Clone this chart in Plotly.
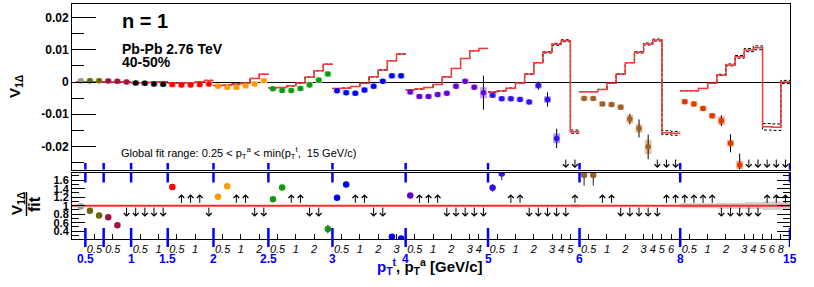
import plotly.graph_objects as go

# ---------------- data ----------------
# trigger-pT boundaries (blue), placed at the start of blocks 1..11 and at the end of block 11
trig_edge_labels = ["0.5", "", "1", "1.5", "2", "2.5", "3", "4", "5", "6", "8", "15"]
# associated-pT boundary labels, by inner edge index j inside each trigger block
assoc_edge_labels = ["", "0.5", "", "1", "", "2", "", "3", "4", "5", "6", "8"]

region_color = ["#9a9a9a", "#6b6600", "#9c1445", "#000000", "#ff0000", "#ff9900",
                "#109a10", "#0000ff", "#6a00cc", "#3311ee", "#9a6030", "#dd3a00"]
region_light = ["#d4d4d4", "#c9c58a", "#e0a0b8", "#9a9a9a", "#ffa0a0", "#ffd08a",
                "#9ee09e", "#a0a0ff", "#c8a0ff", "#a898ff", "#e8c098", "#ffa880"]

# V_1Delta data per trigger block (None = below range -> arrow)
v1_data = [
    [0.0004],
    [0.0004, 0.0004],
    [0.0003, 0.0002, 0.0000],
    [-0.0003, -0.0004, -0.0006, -0.0007],
    [-0.0008, -0.0009, -0.0009, -0.0008, -0.0006],
    [-0.0013, -0.0016, -0.0016, -0.0012, -0.0006, 0.0004],
    [-0.0021, -0.0026, -0.0026, -0.0020, -0.0009, 0.0006, 0.0025],
    [-0.0027, -0.0033, -0.0035, -0.0025, -0.0013, 0.0002, 0.0019, 0.0019],
    [-0.0031, -0.0045, -0.0045, -0.0039, -0.0035, -0.0013, 0.0002, -0.0016, -0.0033],
    [-0.0041, -0.0052, -0.0052, -0.0054, -0.0062, -0.0011, -0.0054, -0.0175, None, None],
    [-0.0051, -0.0051, -0.0068, -0.0070, -0.0078, -0.0115, -0.0144, -0.0201, None, None, None],
    [-0.0061, -0.0068, -0.0082, -0.0105, -0.0120, -0.0190, -0.0257, None, None, None, None, None],
]
v1_stat = [
    [0.0001],
    [0.0001, 0.0001],
    [0.0001, 0.0001, 0.0001],
    [0.0001, 0.0001, 0.0001, 0.0001],
    [0.0001, 0.0001, 0.0001, 0.0001, 0.0001],
    [0.0001, 0.0001, 0.0001, 0.0001, 0.0001, 0.0002],
    [0.0001, 0.0001, 0.0001, 0.0001, 0.0002, 0.0002, 0.0002],
    [0.0001, 0.0001, 0.0001, 0.0002, 0.0002, 0.0002, 0.0004, 0.0004],
    [0.0001, 0.0001, 0.0001, 0.0002, 0.0002, 0.0004, 0.0005, 0.0006, 0.0053],
    [0.0001, 0.0001, 0.0002, 0.0002, 0.0003, 0.0013, 0.0022, 0.0030, 0, 0],
    [0.0001, 0.0001, 0.0002, 0.0002, 0.0004, 0.0016, 0.0028, 0.0038, 0, 0, 0],
    [0.0001, 0.0002, 0.0002, 0.0004, 0.0017, 0.0028, 0.0035, 0, 0, 0, 0, 0],
]
v1_sys = [
    [0.0008],
    [0.0008, 0.0008],
    [0.0008, 0.0008, 0.0008],
    [0.0008, 0.0008, 0.0008, 0.0008],
    [0.0008, 0.0008, 0.0008, 0.0008, 0.0008],
    [0.0008, 0.0008, 0.0008, 0.0008, 0.0008, 0.0008],
    [0.0008, 0.0008, 0.0008, 0.0008, 0.0008, 0.0008, 0.0008],
    [0.0008, 0.0008, 0.0008, 0.0008, 0.0008, 0.0008, 0.0008, 0.0008],
    [0.0008, 0.0008, 0.0008, 0.0008, 0.0008, 0.0008, 0.0008, 0.0008, 0.0017],
    [0.0008, 0.0008, 0.0008, 0.0008, 0.0008, 0.0009, 0.0010, 0.0015, 0, 0],
    [0.0008, 0.0008, 0.0008, 0.0008, 0.0009, 0.0013, 0.0013, 0.0022, 0, 0, 0],
    [0.0008, 0.0008, 0.0008, 0.0009, 0.0013, 0.0010, 0.0013, 0, 0, 0, 0, 0],
]
# global fit per bin
v1_fit = [
    [0.0001],
    [0.0001, 0.0001],
    [0.0000, 0.0000, 0.0001],
    [-0.0002, -0.0002, -0.0001, 0.0001],
    [-0.0004, -0.0004, -0.0002, 0.0001, 0.0005],
    [-0.0011, -0.0010, -0.0006, -0.0003, 0.0011, 0.0024],
    [-0.0018, -0.0017, -0.0012, -0.0003, 0.0015, 0.0035, 0.0055],
    [-0.0020, -0.0019, -0.0014, -0.0004, 0.0016, 0.0037, 0.0066, 0.0087],
    [-0.0024, -0.0022, -0.0017, -0.0008, 0.0016, 0.0042, 0.0073, 0.0097, 0.0104],
    [-0.0031, -0.0028, -0.0019, -0.0003, 0.0025, 0.0060, 0.0092, 0.0117, 0.0128, -0.0154],
    [-0.0030, -0.0030, -0.0023, -0.0004, 0.0025, 0.0060, 0.0092, 0.0118, 0.0130, -0.0157, -0.0159],
    [-0.0027, -0.0027, -0.0020, -0.0004, 0.0022, 0.0053, 0.0078, 0.0099, 0.0106, -0.0139, -0.0140, 0.0000],
]
# fit uncertainty (dashed lines)
v1_fit_err = [
    [0], [0, 0], [0, 0, 0], [0, 0, 0, 0], [0, 0, 0, 0, 0], [0, 0, 0, 0, 0, 0],
    [0, 0, 0, 0, 0, 0, 0], [0, 0, 0, 0, 0, 0, 0, 0], [0, 0, 0, 0, 0, 0, 0, 0, 0],
    [0, 0, 0, 0, 0, 0, 0.0002, 0.0003, 0.0003, 0.0005],
    [0, 0, 0, 0, 0, 0, 0.0002, 0.0003, 0.0003, 0.0006, 0.0006],
    [0, 0, 0, 0, 0.0002, 0.0003, 0.0004, 0.0005, 0.0006, 0.0010, 0.0010, 0.0005],
]
# data / fit (None = out of range -> arrow)
ratio = [
    [0.98],
    [0.88, 0.77],
    [0.73, 0.54, None],
    [None, None, None, None],
    [1.44, None, None, None, None],
    [1.21, 1.46, None, None, None, None],
    [1.15, 1.43, None, None, None, None, 0.45],
    [1.19, 1.50, None, None, None, None, 0.27, 0.23],
    [1.24, None, None, None, None, None, None, None, None],
    [1.42, 1.76, None, None, None, None, None, None, None, None],
    [1.72, 1.72, None, None, None, None, None, None, None, None, None],
    [None] * 12,
]
ratio_err = [
    [0.02], [0.02, 0.02], [0.02, 0.03, 0], [0, 0, 0, 0], [0.02, 0, 0, 0, 0],
    [0.02, 0.02, 0, 0, 0, 0], [0.02, 0.02, 0, 0, 0, 0, 0.10],
    [0.02, 0.02, 0, 0, 0, 0, 0.03, 0.03], [0.03] + [0] * 8,
    [0.09, 0.16] + [0] * 8, [0.25, 0.25] + [0] * 9, [0] * 12,
]
ratio_arrow = [".", "..", "..d", "dddd", ".uuud", "..uudd", "..uudd.", "..uudd..",
               ".uuuddddd", "..uudddddu", "..uuddddduu", "uuuuddddduuu"]
# relative fit uncertainty band in the ratio panel
ratio_band = [
    [0], [0, 0], [0, 0, 0], [0, 0, 0, 0], [0, 0, 0, 0, 0], [0, 0, 0, 0, 0, 0],
    [0, 0, 0, 0, 0, 0, 0], [0, 0, 0, 0, 0, 0, 0, 0], [0, 0, 0, 0, 0, 0, 0, 0, 0],
    [0, 0, 0, 0, 0, 0, 0, 0, 0, 0.04],
    [0, 0, 0, 0, 0, 0, 0, 0, 0, 0, 0],
    [0.06, 0.06, 0.06, 0.06, 0.07, 0.07, 0.07, 0.08, 0.08, 0.1, 0.1, 0.1],
]

# ---------------- geometry helpers (layout only) ----------------
FONT = "Liberation Sans, Arial, Helvetica, sans-serif"
L, R, T, B = 72, 24, 4, 48
W, H = 814, 287
PW, PH = W - L - R, H - T - B


def pxx(px):
    return (px - L) / PW


def pyy(py):
    return (H - B - py) / PH


XR = [-0.46, 78.0]
Y1R = [(82 - 169.5) / 3225, (82 - 4) / 3225]
Y2R = [1 - (239 - 205.7) / 42.5, 1 + (205.7 - 172.5) / 42.5]
dom1 = [pyy(169.5), 1.0]
dom2 = [0.0, pyy(172.5)]

# flatten blocks
starts = []
s = 0
for blk in v1_data:
    starts.append(s)
    s += len(blk)
NB = s

fig = go.Figure()

# ---- top panel: systematic boxes ----
bx, bb, bh, bc = [], [], [], []
for r, blk in enumerate(v1_data):
    for j, v in enumerate(blk):
        if v is None:
            continue
        sy = v1_sys[r][j]
        bx.append(starts[r] + j + 0.5)
        bb.append(v - sy)
        bh.append(2 * sy)
        bc.append(region_light[r])
fig.add_trace(go.Bar(x=bx, y=bh, base=bb, width=0.75, marker=dict(color=bc, line=dict(width=0)),
                     xaxis="x", yaxis="y", hoverinfo="skip"))

# ---- fit lines (dashed uncertainty, then red) ----
for sign in (1, -1):
    xs, ys = [], []
    for r, blk in enumerate(v1_fit):
        for j, f in enumerate(blk):
            xs.append(starts[r] + j)
            ys.append(f + sign * v1_fit_err[r][j])
        xs.append(starts[r] + len(blk))
        ys.append(blk[-1] + sign * v1_fit_err[r][-1])
        xs.append(None)
        ys.append(None)
    fig.add_trace(go.Scatter(x=xs, y=ys, mode="lines", line=dict(color="black", width=1, dash="3px,2px", shape="hv"),
                             xaxis="x", yaxis="y", hoverinfo="skip"))
xs, ys = [], []
for r, blk in enumerate(v1_fit):
    for j, f in enumerate(blk):
        xs.append(starts[r] + j)
        ys.append(f)
    xs.append(starts[r] + len(blk))
    ys.append(blk[-1])
    xs.append(None)
    ys.append(None)
fig.add_trace(go.Scatter(x=xs, y=ys, mode="lines", line=dict(color="#f03c3c", width=1.5, shape="hv"),
                         xaxis="x", yaxis="y", hoverinfo="skip"))

# ---- data points ----
px_, py_, pe_, pc_ = [], [], [], []
arrows_top = []
for r, blk in enumerate(v1_data):
    for j, v in enumerate(blk):
        c = starts[r] + j + 0.5
        if v is None:
            arrows_top.append(c)
            continue
        px_.append(c)
        py_.append(v)
        pe_.append(v1_stat[r][j])
        pc_.append(region_color[r])
fig.add_trace(go.Scatter(x=px_, y=py_, mode="markers", marker=dict(color=pc_, size=5.5, symbol="circle"),
                         error_y=dict(type="data", array=pe_, color="black", thickness=1, width=0),
                         xaxis="x", yaxis="y", hoverinfo="skip"))

# ---- bottom panel ----
gx, gb, gh = [], [], []
for r, blk in enumerate(ratio_band):
    for j, hw in enumerate(blk):
        if hw > 0:
            gx.append(starts[r] + j + 0.5)
            gb.append(1 - hw)
            gh.append(2 * hw)
fig.add_trace(go.Bar(x=gx, y=gh, base=gb, width=1.0, marker=dict(color="#cfcfcf", line=dict(width=0)),
                     xaxis="x2", yaxis="y2", hoverinfo="skip"))
fig.add_trace(go.Scatter(x=[XR[0], XR[1]], y=[1, 1], mode="lines", line=dict(color="#ff2a2a", width=2),
                         xaxis="x2", yaxis="y2", hoverinfo="skip"))
rx, ry, re, rc = [], [], [], []
arrows_bot = []
for r, blk in enumerate(ratio):
    for j, q in enumerate(blk):
        c = starts[r] + j + 0.5
        a = ratio_arrow[r][j]
        if a in "ud":
            arrows_bot.append((c, a))
        if q is None:
            continue
        rx.append(c)
        ry.append(q)
        re.append(ratio_err[r][j])
        rc.append(region_color[r])
fig.add_trace(go.Scatter(x=rx, y=ry, mode="markers", marker=dict(color=rc, size=6.5, symbol="circle"),
                         error_y=dict(type="data", array=re, color="#222222", thickness=1, width=0),
                         xaxis="x2", yaxis="y2", hoverinfo="skip"))

annotations = []
shapes = []

# arrows
for c in arrows_top:
    annotations.append(dict(x=c, y=(82 - 168) / 3225, ax=c, ay=(82 - 158) / 3225, xref="x", yref="y",
                            axref="x", ayref="y", text="", showarrow=True, arrowhead=4, arrowsize=1.1,
                            arrowwidth=1, arrowcolor="black", standoff=0, startstandoff=0))
for c, a in arrows_bot:
    if a == "u":
        hy, ty = 1.27, 1.03
    else:
        hy, ty = 0.74, 0.99
    annotations.append(dict(x=c, y=hy, ax=c, ay=ty, xref="x2", yref="y2", axref="x2", ayref="y2",
                            text="", showarrow=True, arrowhead=4, arrowsize=1.1, arrowwidth=1,
                            arrowcolor="black", standoff=0, startstandoff=0))

# blue trigger boundaries
blue_pos = [starts[r] for r in range(1, len(starts))] + [NB]
for k, xb in enumerate(blue_pos):
    for (ya, yb) in [(163, 169.5), (172.5, 182.5), (228, 247)]:
        shapes.append(dict(type="line", xref="x", yref="paper", x0=xb, x1=xb, y0=pyy(ya), y1=pyy(yb),
                           line=dict(color="#0000ff", width=2.5)))
    if trig_edge_labels[k]:
        annotations.append(dict(x=xb, y=pyy(258.5), xref="x2", yref="paper", text="<b>%s</b>" % trig_edge_labels[k],
                                showarrow=False, font=dict(family=FONT, size=12, color="#0000ff"),
                                xanchor="center", yanchor="middle"))

# associated pT tick labels
tv, tt = [], []
for r, blk in enumerate(v1_data):
    n = len(blk)
    for j in range(1, n):
        if assoc_edge_labels[j]:
            tv.append(starts[r] + j)
            tt.append(assoc_edge_labels[j])

# texts
annotations += [
    dict(x=pxx(120), y=pyy(21), xref="paper", yref="paper", text="<b>n = 1</b>", showarrow=False,
         font=dict(family=FONT, size=20, color="black"), xanchor="left", yanchor="middle"),
    dict(x=pxx(120), y=pyy(49), xref="paper", yref="paper", text="<b>Pb-Pb 2.76 TeV</b>", showarrow=False,
         font=dict(family=FONT, size=14, color="black"), xanchor="left", yanchor="middle"),
    dict(x=pxx(120), y=pyy(62.5), xref="paper", yref="paper", text="<b>40-50%</b>", showarrow=False,
         font=dict(family=FONT, size=14, color="black"), xanchor="left", yanchor="middle"),
    dict(x=pxx(119), y=pyy(153), xref="paper", yref="paper",
         text="Global fit range: 0.25 &lt; p<sub>T</sub><sup>a</sup> &lt; min(p<sub>T</sub><sup>t</sup>,  15 GeV/c)",
         showarrow=False, font=dict(family=FONT, size=11, color="black"), xanchor="left", yanchor="middle"),
    dict(x=pxx(16), y=pyy(86), xref="paper", yref="paper", text="<b>V<sub>1Δ</sub></b>", textangle=-90,
         showarrow=False, font=dict(family=FONT, size=15, color="black"), xanchor="center", yanchor="middle"),
    dict(x=pxx(17), y=pyy(203), xref="paper", yref="paper", text="<b>V<sub>1Δ</sub></b>", textangle=-90,
         showarrow=False, font=dict(family=FONT, size=15, color="black"), xanchor="center", yanchor="middle"),
    dict(x=pxx(34), y=pyy(204), xref="paper", yref="paper", text="<b>fit</b>", textangle=-90,
         showarrow=False, font=dict(family=FONT, size=16, color="black"), xanchor="center", yanchor="middle"),
    dict(x=pxx(430), y=pyy(266), xref="paper", yref="paper",
         text="<b><span style='color:#0000ff'>p<sub>T</sub><sup>t</sup></span>, p<sub>T</sub><sup>a</sup> [GeV/c]</b>",
         showarrow=False, font=dict(family=FONT, size=15, color="black"), xanchor="center", yanchor="middle"),
]
shapes.append(dict(type="line", xref="paper", yref="paper", x0=pxx(26.5), x1=pxx(26.5), y0=pyy(192), y1=pyy(216),
                   line=dict(color="black", width=1.5)))

fig.update_layout(
    width=W, height=H, margin=dict(l=L, r=R, t=T, b=B),
    paper_bgcolor="white", plot_bgcolor="white", showlegend=False, barmode="overlay",
    font=dict(family=FONT, color="black"),
    xaxis=dict(domain=[0, 1], range=XR, anchor="y", showticklabels=False, ticks="", showgrid=False,
               zeroline=False, showline=True, mirror=True, linecolor="black", linewidth=1),
    yaxis=dict(domain=dom1, range=Y1R, anchor="x", tickvals=[-0.02, -0.01, 0, 0.01, 0.02],
               ticktext=["-0.02", "-0.01", "0", "0.01", "0.02"], ticks="inside", ticklen=24, tickwidth=1,
               tickcolor="black", minor=dict(ticks="inside", ticklen=12, dtick=0.005, tick0=0, tickcolor="black"),
               tickfont=dict(family=FONT, size=12, weight="bold"), showgrid=False, zeroline=True,
               zerolinecolor="black", zerolinewidth=1, showline=True, mirror=True, linecolor="black", linewidth=1),
    xaxis2=dict(domain=[0, 1], range=XR, anchor="y2", tickvals=tv, ticktext=tt, ticks="inside", ticklen=5,
                tickcolor="black", tickangle=0, tickfont=dict(family=FONT, size=11, style="italic"),
                showgrid=False, zeroline=False, showline=True, mirror=True, linecolor="black", linewidth=1),
    yaxis2=dict(domain=dom2, range=Y2R, anchor="x2", tickvals=[0.4, 0.6, 0.8, 1.0, 1.2, 1.4, 1.6],
                ticktext=["0.4", "0.6", "0.8", "1", "1.2", "1.4", "1.6"], ticks="inside", ticklen=13,
                tickcolor="black", minor=dict(ticks="inside", ticklen=7, dtick=0.1, tick0=0, tickcolor="black"),
                tickfont=dict(family=FONT, size=11, weight="bold"), showgrid=False, zeroline=False,
                showline=True, mirror="ticks", linecolor="black", linewidth=1),
    annotations=annotations, shapes=shapes,
)

fig.write_html("out.html", config={"displayModeBar": False},
               post_script="document.body.style.margin='0px';document.body.style.padding='0px';")
